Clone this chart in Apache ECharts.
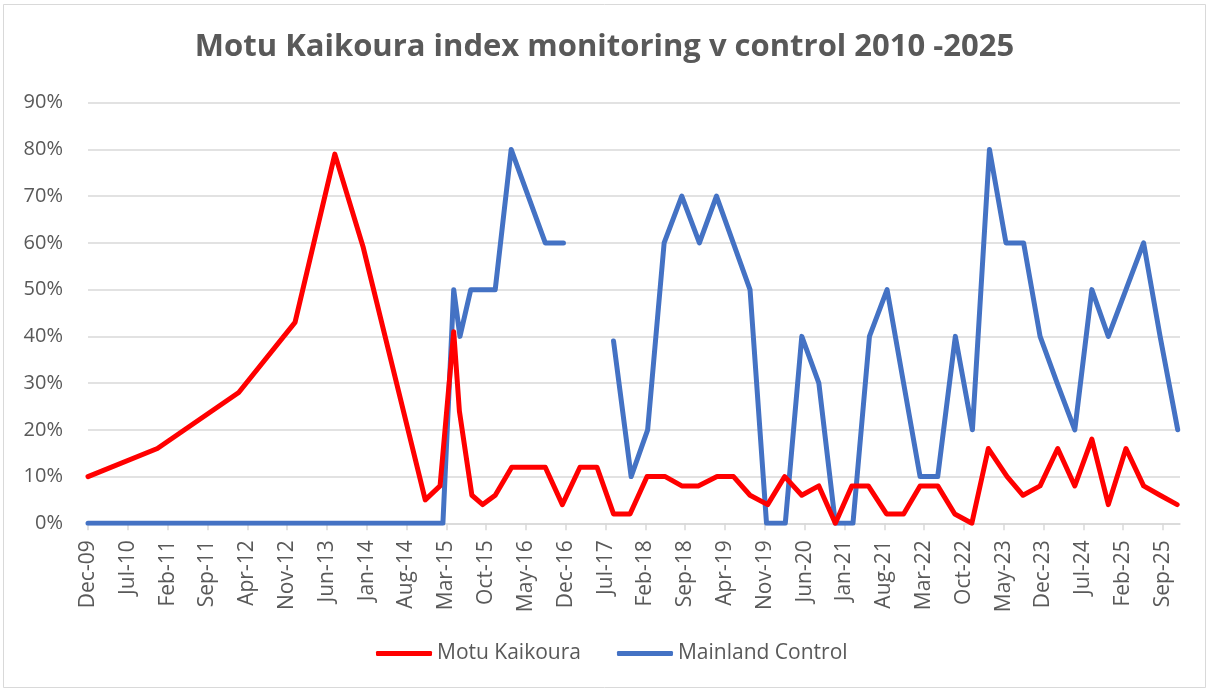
<!DOCTYPE html>
<html>
<head>
<meta charset="utf-8">
<script src="https://cdn.jsdelivr.net/npm/echarts@6/dist/echarts.min.js"></script>
<style>
  html, body { margin: 0; padding: 0; background: #fff; }
  #chart { width: 1209px; height: 690px; }
</style>
</head>
<body>
<div id="chart"></div>
<script>
// x axis tick labels (every 7 months, Excel date axis)
const tickLabels = ['Dec-09', 'Jul-10', 'Feb-11', 'Sep-11', 'Apr-12', 'Nov-12', 'Jun-13', 'Jan-14', 'Aug-14',
    'Mar-15', 'Oct-15', 'May-16', 'Dec-16', 'Jul-17', 'Feb-18', 'Sep-18', 'Apr-19', 'Nov-19', 'Jun-20',
    'Jan-21', 'Aug-21', 'Mar-22', 'Oct-22', 'May-23', 'Dec-23', 'Jul-24', 'Feb-25', 'Sep-25'];
const axisEnd = 'Dec-25';

// Motu Kaikoura (index %)
const motuDates = ['2009-12-01', '2010-12-07', '2012-02-16', '2012-12-13', '2013-07-13', '2013-12-13',
    '2014-11-10', '2015-01-28', '2015-04-10', '2015-05-10', '2015-07-16', '2015-09-13', '2015-11-19',
    '2016-02-16', '2016-08-13', '2016-11-13', '2017-02-16', '2017-05-16', '2017-08-13', '2017-11-10',
    '2018-02-10', '2018-05-16', '2018-08-13', '2018-11-10', '2019-02-19', '2019-05-16', '2019-08-13',
    '2019-11-16', '2020-02-16', '2020-05-16', '2020-08-16', '2020-11-13', '2021-02-10', '2021-05-07',
    '2021-08-13', '2021-11-13', '2022-02-10', '2022-05-13', '2022-08-13', '2022-11-13', '2023-02-10',
    '2023-05-19', '2023-08-13', '2023-11-13', '2024-02-16', '2024-05-16', '2024-08-16', '2024-11-13',
    '2025-02-16', '2025-05-19', '2025-08-16', '2025-11-16'];
const motuValues = [10, 16, 28, 43, 79, 59,
    5, 8, 41, 24, 6, 4, 6,
    12, 12, 4, 12, 12, 2, 2,
    10, 10, 8, 8, 10, 10, 6,
    4, 10, 6, 8, 0, 8, 8,
    2, 2, 8, 8, 2, 0, 16,
    10, 6, 8, 16, 8, 18, 4,
    16, 8, 6, 4];

// Mainland Control (index %), null = no survey (line break)
const mainlandDates = ['2009-12-01', '2015-02-13', '2015-04-10', '2015-05-13', '2015-07-10', '2015-11-19',
    '2016-02-13', '2016-08-13', '2016-11-19', '2017-04-01', '2017-08-13', '2017-11-16', '2018-02-13',
    '2018-05-10', '2018-08-13', '2018-11-16', '2019-02-16', '2019-08-13', '2019-11-10', '2020-02-19',
    '2020-05-16', '2020-08-16', '2020-11-13', '2021-02-16', '2021-05-13', '2021-08-16', '2021-11-13',
    '2022-02-10', '2022-05-13', '2022-08-16', '2022-11-16', '2023-02-16', '2023-05-13', '2023-08-16',
    '2023-11-13', '2024-02-13', '2024-05-16', '2024-08-16', '2024-11-13', '2025-02-16', '2025-05-19',
    '2025-08-16', '2025-11-19'];
const mainlandValues = [0, 0, 50, 40, 50, 50,
    80, 60, 60, null, 39, 10, 20,
    60, 70, 60, 70, 50, 0, 0,
    40, 30, 0, 0, 40, 50, 30,
    10, 10, 40, 20, 80, 60, 60,
    40, 30, 20, 50, 40, 50, 60,
    40, 20];

const monthNames = ['Jan', 'Feb', 'Mar', 'Apr', 'May', 'Jun', 'Jul', 'Aug', 'Sep', 'Oct', 'Nov', 'Dec'];

// months since 1 Dec 2009
function labelToMonth(lbl) {
    const [mon, yy] = lbl.split('-');
    return (2000 + Number(yy) - 2009) * 12 + monthNames.indexOf(mon) - 11;
}
function dateToMonth(d) {
    const [y, m, day] = d.split('-').map(Number);
    return (y - 2009) * 12 + (m - 12) + (day - 1) / 30;
}

const tickMonths = tickLabels.map(labelToMonth);
const toData = (dates, vals) => dates.map((d, i) => [dateToMonth(d), vals[i] === null ? '-' : vals[i]]);

const grey = '#595959';
const lineGrey = '#D9D9D9';

const chart = echarts.init(document.getElementById('chart'));
chart.setOption({
    animation: false,
    backgroundColor: '#fff',
    title: {
        text: 'Motu Kaikoura index monitoring v control 2010 -2025',
        left: 'center',
        top: 27,
        textStyle: { fontFamily: 'Open Sans', fontWeight: 'bold', fontSize: 31, color: grey }
    },
    graphic: [{
        type: 'rect',
        shape: { x: 3.5, y: 4.5, width: 1202, height: 683 },
        style: { fill: 'none', stroke: lineGrey, lineWidth: 1 },
        silent: true
    }],
    grid: { left: 88, right: 29, top: 102.7, bottom: 166.7 },
    legend: {
        bottom: 21,
        left: 371,
        icon: 'roundRect',
        itemWidth: 56,
        itemHeight: 5,
        itemGap: 36,
        textStyle: { fontFamily: 'Open Sans', fontSize: 21, color: grey },
        data: ['Motu Kaikoura', 'Mainland Control']
    },
    xAxis: {
        type: 'value',
        min: 0,
        max: labelToMonth(axisEnd),
        axisLine: { show: true, lineStyle: { color: lineGrey, width: 1.5 } },
        axisTick: { show: true, customValues: tickMonths, length: 7, lineStyle: { color: lineGrey, width: 1.5 } },
        splitLine: { show: false },
        axisLabel: {
            customValues: tickMonths,
            rotate: 90,
            margin: 17,
            fontFamily: 'Open Sans',
            fontSize: 21,
            color: grey,
            formatter: v => tickLabels[tickMonths.indexOf(Math.round(v))] || ''
        }
    },
    yAxis: {
        type: 'value',
        min: 0,
        max: 90,
        interval: 10,
        axisLine: { show: false },
        axisTick: { show: false },
        splitLine: { lineStyle: { color: lineGrey, width: 1.5 } },
        axisLabel: {
            formatter: '{value}%',
            margin: 25,
            fontFamily: 'Open Sans',
            fontSize: 20,
            color: grey
        }
    },
    series: [{
        name: 'Mainland Control',
        type: 'line',
        data: toData(mainlandDates, mainlandValues),
        symbol: 'none',
        connectNulls: false,
        itemStyle: { color: '#4472C4' },
        lineStyle: { color: '#4472C4', width: 5, cap: 'round', join: 'round' }
    }, {
        name: 'Motu Kaikoura',
        type: 'line',
        data: toData(motuDates, motuValues),
        symbol: 'none',
        itemStyle: { color: '#FF0000' },
        lineStyle: { color: '#FF0000', width: 5, cap: 'round', join: 'round' }
    }]
});
</script>
</body>
</html>
